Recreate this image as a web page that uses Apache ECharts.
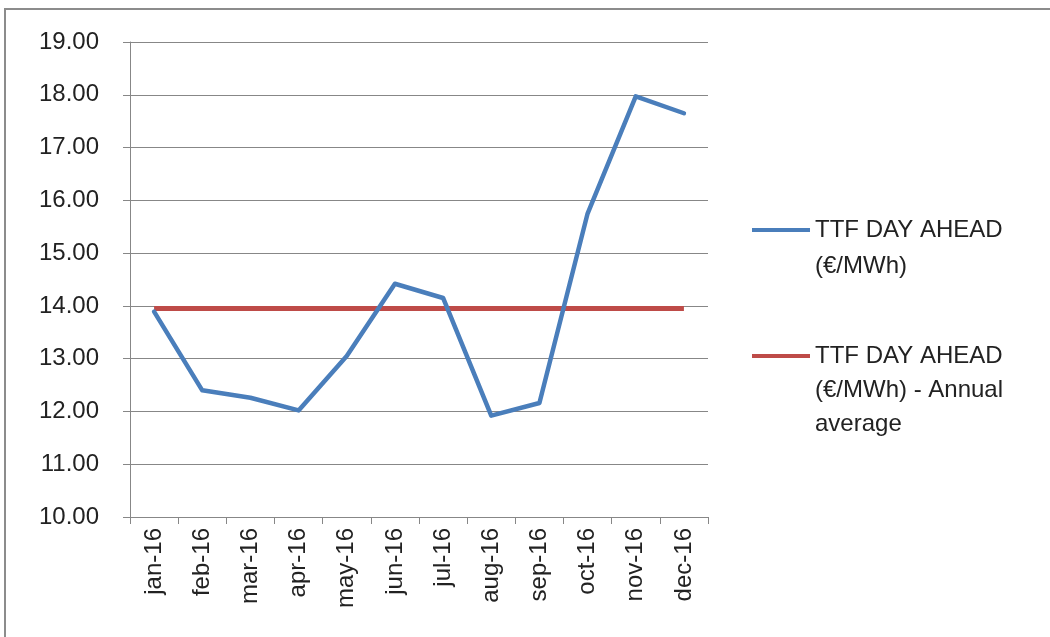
<!DOCTYPE html>
<html>
<head>
<meta charset="utf-8">
<script src="https://cdn.jsdelivr.net/npm/echarts@6/dist/echarts.min.js"></script>
<style>
  html, body { margin: 0; padding: 0; background: #fff; overflow: hidden; }
  #frame { position: absolute; left: 4px; top: 8px; width: 1060px; height: 650px; border: 2px solid #8c8c8c; }
  #chart { position: absolute; left: 0; top: 0; width: 1050px; height: 637px; }
</style>
</head>
<body>
<div id="frame"></div>
<div id="chart"></div>
<script>
// values
const months = ['jan-16', 'feb-16', 'mar-16', 'apr-16', 'may-16', 'jun-16', 'jul-16', 'aug-16', 'sep-16', 'oct-16', 'nov-16', 'dec-16']
const dayAhead = [13.89, 12.40, 12.26, 12.02, 13.05, 14.42, 14.15, 11.92, 12.16, 15.75, 17.97, 17.65]
const annualAverage = [13.95, 13.95, 13.95, 13.95, 13.95, 13.95, 13.95, 13.95, 13.95, 13.95, 13.95, 13.95]
const seriesNames = ['TTF DAY AHEAD\n(€/MWh)', 'TTF DAY AHEAD\n(€/MWh) - Annual\naverage']

const font = 'Liberation Sans'
const gridColor = '#878787'
const blue = '#4a7ebb'
const red = '#be4b48'

const chart = echarts.init(document.getElementById('chart'), null, { renderer: 'canvas' })

// blank lines on top so the icon sits level with the first text line
const padLines = (name) => {
  const n = name.split('\n').length
  return '\u00a0\n'.repeat(n - 1) + name
}

const legendBase = {
  left: 747,
  itemWidth: 58,
  itemHeight: 4,
  itemGap: 0,
  icon: 'rect',
  selectedMode: false,
  formatter: padLines,
}

chart.setOption({
  animation: false,
  backgroundColor: 'transparent',
  grid: { left: 130, right: 342, top: 42, bottom: 120 },
  legend: [
    {
      ...legendBase,
      top: 171,
      data: [seriesNames[0]],
      textStyle: { fontFamily: font, fontSize: 24, color: '#222', lineHeight: 36 },
    },
    {
      ...legendBase,
      top: 266,
      data: [seriesNames[1]],
      textStyle: { fontFamily: font, fontSize: 24, color: '#222', lineHeight: 34 },
    },
  ],
  xAxis: {
    type: 'category',
    data: months,
    boundaryGap: true,
    axisLine: { lineStyle: { color: gridColor, width: 1 } },
    axisTick: { show: true, length: 7, lineStyle: { color: gridColor } },
    axisLabel: {
      rotate: 90,
      margin: 11,
      interval: 0,
      fontFamily: font,
      fontSize: 24,
      color: '#222',
    },
    splitLine: { show: false },
  },
  yAxis: {
    type: 'value',
    min: 10,
    max: 19,
    interval: 1,
    axisLine: { show: true, lineStyle: { color: gridColor, width: 1 } },
    axisTick: { show: true, length: 7, lineStyle: { color: gridColor } },
    axisLabel: {
      margin: 31,
      fontFamily: font,
      fontSize: 24,
      color: '#222',
      formatter: (v) => v.toFixed(2),
    },
    splitLine: { show: true, lineStyle: { color: gridColor, width: 1 } },
  },
  series: [
    {
      name: seriesNames[0],
      type: 'line',
      data: dayAhead,
      showSymbol: false,
      symbol: 'none',
      lineStyle: { color: blue, width: 4.5, cap: 'round', join: 'round' },
      itemStyle: { color: blue },
      z: 3,
    },
    {
      name: seriesNames[1],
      type: 'line',
      data: annualAverage,
      showSymbol: false,
      symbol: 'none',
      lineStyle: { color: red, width: 5 },
      itemStyle: { color: red },
      z: 2,
    },
  ],
})
</script>
</body>
</html>
